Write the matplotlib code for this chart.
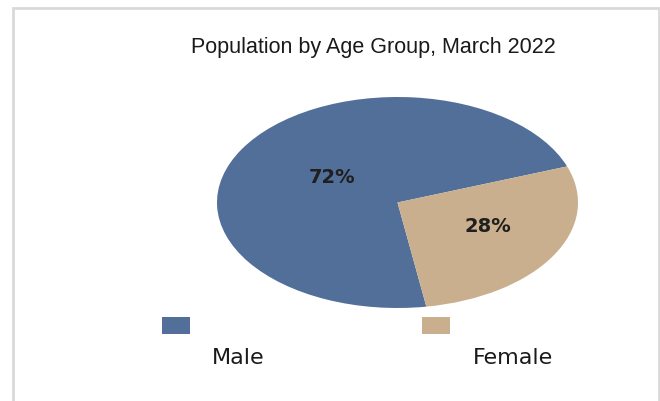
import matplotlib.pyplot as plt
from matplotlib.patches import Rectangle

categories = ["Male", "Female"]
shares = [72, 28]
colors = ["#516F98", "#C9AF8D"]
title = "Population by Age Group, March 2022"

W, H = 660, 401
fig = plt.figure(figsize=(W / 100, H / 100), dpi=100)
fig.patch.set_facecolor("white")


def fx(px):
    return px / W


def fy(py):
    return 1 - py / H


# light frame around the chart area
fig.add_artist(Rectangle((fx(13), -0.02), fx(659) - fx(13), fy(8) + 0.02,
                         transform=fig.transFigure, fill=False,
                         edgecolor="#d9d9d9", linewidth=2))

fig.text(fx(373), fy(47), title, ha="center", va="center",
         fontsize=15.5, family=["Liberation Sans", "DejaVu Sans"], color="#1a1a1a")

# pie is drawn as an ellipse (stretched wider than tall)
ax = fig.add_axes([fx(217), fy(308), fx(578) - fx(217), fy(97) - fy(308)])
wedges, texts, autotexts = ax.pie(
    shares, colors=colors, startangle=20, counterclock=True,
    autopct="%d%%", pctdistance=0.5, radius=1,
    wedgeprops=dict(linewidth=0),
    textprops=dict(fontsize=14, fontweight="bold", color="#1f1f1f"),
)
# nudge the percentage labels to where they sit in the original
label_pos = [(-0.36, 0.24), (0.50, -0.23)]
for t, pos in zip(autotexts, label_pos):
    t.set_position(pos)
ax.set_aspect("auto")
ax.set_xlim(-1, 1)
ax.set_ylim(-1, 1)
ax.axis("off")

# legend: swatch on top, label underneath
sw_x = [162, 422]
lab_x = [238, 513]
for name, col, sx, lx in zip(categories, colors, sw_x, lab_x):
    fig.add_artist(Rectangle((fx(sx), fy(334)), fx(28), fy(317) - fy(334),
                             transform=fig.transFigure, facecolor=col,
                             edgecolor="none"))
    fig.text(fx(lx), fy(358), name, ha="center", va="center",
             fontsize=16, color="#1a1a1a")

fig.savefig("out.png", dpi=100)
